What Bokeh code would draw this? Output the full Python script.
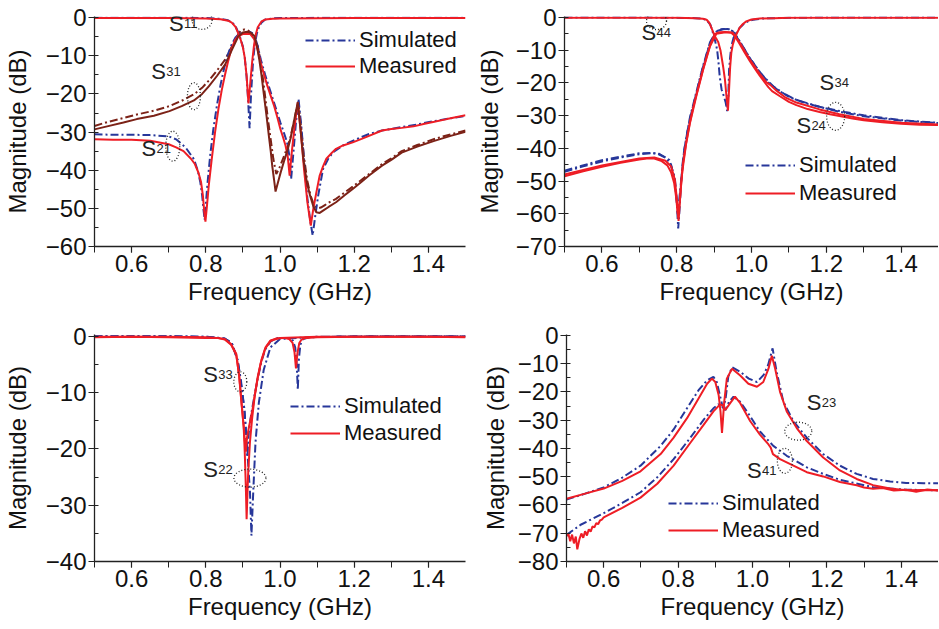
from bokeh.plotting import figure
from bokeh.layouts import column, row
from bokeh.models import Legend, LegendItem, SingleIntervalTicker, NumeralTickFormatter, Range1d
from bokeh.embed import file_html
from bokeh.resources import INLINE
from bokeh.core.properties import value

# ---------------- Panel (a): S11, S21, S31 ----------------
f11_m = [0.5, 0.7, 0.8, 0.84, 0.86, 0.87, 0.88, 0.887, 0.894, 0.9, 0.905, 0.91, 0.915, 0.92, 0.925, 0.93, 0.935, 0.94, 0.95, 0.96, 0.98, 1.0, 1.2, 1.5]
s11_m = [-0.1, -0.1, -0.2, -0.4, -0.8, -1.3, -2.4, -4.0, -5.8, -7.8, -10.5, -15.3, -22.5, -17.0, -11.5, -7.2, -4.3, -2.5, -1.0, -0.5, -0.3, -0.2, -0.1, -0.1]
f11_s = [0.5, 0.7, 0.8, 0.84, 0.86, 0.87, 0.88, 0.887, 0.894, 0.9, 0.905, 0.91, 0.914, 0.918, 0.922, 0.927, 0.932, 0.938, 0.944, 0.95, 0.96, 0.98, 1.0, 1.2, 1.5]
s11_s = [0.0, 0.0, -0.1, -0.3, -0.7, -1.2, -2.2, -3.8, -5.6, -7.6, -10.5, -15.5, -21.5, -29.0, -20.0, -12.0, -7.0, -4.0, -2.3, -1.3, -0.5, -0.2, -0.1, 0.0, 0.0]

f21_m = [0.5, 0.55, 0.6, 0.65, 0.7, 0.72, 0.74, 0.76, 0.77, 0.78, 0.787, 0.792, 0.796, 0.799, 0.803, 0.808, 0.816, 0.825, 0.834, 0.843, 0.851, 0.86, 0.869, 0.878, 0.887, 0.9, 0.91, 0.92, 0.931, 0.94, 0.948, 0.957, 0.966, 0.975, 0.984, 0.993, 1.001, 1.008, 1.015, 1.021, 1.026, 1.032, 1.04, 1.048, 1.056, 1.065, 1.074, 1.083, 1.09, 1.098, 1.107, 1.116, 1.125, 1.14, 1.151, 1.17, 1.196, 1.22, 1.24, 1.275, 1.3, 1.328, 1.36, 1.39, 1.416, 1.45, 1.5]
s21_m = [-31.9, -32.0, -32.0, -32.3, -33.2, -34.0, -35.0, -37.0, -38.3, -40.6, -43.0, -46.5, -51.0, -53.5, -49.5, -44.0, -37.1, -30.0, -24.0, -19.0, -15.3, -11.5, -8.3, -6.0, -4.8, -4.3, -4.2, -4.3, -5.7, -8.5, -11.8, -14.9, -17.9, -20.5, -23.1, -26.2, -29.2, -31.3, -33.6, -36.5, -41.4, -35.0, -28.0, -22.2, -30.0, -40.0, -48.5, -54.5, -50.0, -45.8, -41.4, -39.0, -37.0, -35.4, -34.4, -33.5, -32.7, -31.8, -31.0, -29.6, -29.2, -28.9, -28.5, -27.8, -27.3, -26.6, -25.6]
f21_s = [0.5, 0.55, 0.6, 0.65, 0.7, 0.72, 0.746, 0.768, 0.778, 0.785, 0.79, 0.794, 0.797, 0.8, 0.805, 0.812, 0.82, 0.83, 0.84, 0.85, 0.86, 0.87, 0.88, 0.89, 0.9, 0.91, 0.92, 0.93, 0.94, 0.948, 0.96, 0.975, 0.988, 1.001, 1.01, 1.019, 1.025, 1.03, 1.036, 1.043, 1.05, 1.058, 1.066, 1.074, 1.082, 1.088, 1.095, 1.103, 1.116, 1.13, 1.143, 1.17, 1.196, 1.22, 1.24, 1.275, 1.328, 1.37, 1.416, 1.46, 1.5]
s21_s = [-30.6, -30.7, -30.7, -30.8, -31.1, -31.9, -34.1, -37.1, -40.0, -43.0, -46.5, -50.5, -53.0, -49.0, -43.0, -36.0, -29.5, -23.0, -17.5, -13.0, -9.5, -7.0, -5.2, -4.3, -4.0, -3.8, -3.8, -4.3, -7.5, -10.9, -15.0, -19.6, -23.5, -27.5, -30.0, -32.7, -36.0, -42.3, -35.5, -27.5, -21.4, -29.0, -39.0, -47.5, -53.5, -57.1, -52.0, -46.6, -39.7, -37.0, -35.3, -33.5, -32.3, -31.3, -30.5, -29.6, -28.7, -28.0, -27.1, -26.4, -25.8]

f31_m = [0.5, 0.534, 0.578, 0.614, 0.66, 0.702, 0.735, 0.768, 0.79, 0.808, 0.83, 0.852, 0.87, 0.887, 0.9, 0.912, 0.922, 0.931, 0.938, 0.944, 0.95, 0.957, 0.964, 0.97, 0.975, 0.979, 0.984, 0.988, 0.995, 1.002, 1.01, 1.02, 1.028, 1.038, 1.048, 1.055, 1.063, 1.072, 1.081, 1.09, 1.098, 1.107, 1.116, 1.13, 1.151, 1.175, 1.196, 1.22, 1.24, 1.275, 1.3, 1.328, 1.37, 1.416, 1.46, 1.5]
s31_m = [-29.3, -28.5, -27.5, -26.6, -25.7, -24.5, -23.2, -21.7, -20.0, -18.0, -15.3, -12.3, -8.5, -5.0, -3.9, -3.7, -4.0, -4.8, -7.5, -10.9, -15.0, -20.5, -26.0, -31.0, -35.0, -38.8, -42.5, -45.6, -43.0, -40.5, -37.9, -34.8, -31.8, -27.0, -22.2, -29.0, -37.1, -43.0, -46.6, -49.5, -51.0, -51.2, -50.6, -49.7, -48.4, -46.5, -44.9, -43.0, -41.4, -38.8, -37.3, -35.4, -33.8, -32.3, -31.0, -29.9]
f31_s = [0.5, 0.534, 0.578, 0.614, 0.66, 0.702, 0.735, 0.768, 0.79, 0.808, 0.83, 0.852, 0.87, 0.887, 0.895, 0.905, 0.915, 0.925, 0.933, 0.94, 0.947, 0.954, 0.961, 0.968, 0.975, 0.982, 0.99, 0.998, 1.008, 1.018, 1.028, 1.038, 1.049, 1.056, 1.064, 1.073, 1.082, 1.091, 1.1, 1.11, 1.12, 1.135, 1.151, 1.175, 1.196, 1.22, 1.24, 1.275, 1.3, 1.328, 1.37, 1.416, 1.46, 1.5]
s31_s = [-28.4, -27.4, -26.3, -25.4, -24.4, -23.2, -21.8, -20.1, -18.4, -16.5, -13.9, -11.0, -7.6, -4.5, -3.3, -3.1, -3.4, -4.3, -6.0, -7.5, -11.0, -16.0, -21.5, -27.0, -32.0, -37.0, -41.0, -39.5, -37.0, -34.5, -31.5, -27.0, -22.0, -28.0, -36.0, -42.5, -46.5, -49.0, -50.0, -49.8, -49.2, -48.3, -47.5, -45.8, -44.3, -42.5, -41.0, -38.4, -36.9, -35.0, -33.4, -31.8, -30.6, -29.6]

# ---------------- Panel (b): S44, S24, S34 ----------------
f44_m = [0.5, 0.7, 0.8, 0.85, 0.87, 0.88, 0.887, 0.893, 0.898, 0.902, 0.907, 0.911, 0.917, 0.924, 0.929, 0.933, 0.937, 0.94, 0.943, 0.946, 0.95, 0.955, 0.961, 0.968, 0.977, 0.986, 1.0, 1.022, 1.06, 1.1, 1.2, 1.3, 1.5]
s44_m = [-0.1, -0.1, -0.1, -0.2, -0.4, -0.7, -1.6, -3.2, -4.6, -5.8, -6.7, -7.5, -10.0, -14.9, -19.0, -24.0, -28.5, -22.0, -15.0, -10.8, -8.3, -6.5, -4.8, -3.2, -2.0, -1.2, -0.6, -0.3, -0.2, -0.1, -0.1, -0.1, -0.1]
f44_s = [0.5, 0.7, 0.8, 0.85, 0.87, 0.88, 0.89, 0.897, 0.903, 0.908, 0.912, 0.915, 0.92, 0.926, 0.931, 0.935, 0.938, 0.94, 0.943, 0.946, 0.952, 0.96, 0.968, 0.977, 0.99, 1.004, 1.03, 1.1, 1.2, 1.5]
s44_s = [0.0, 0.0, -0.1, -0.2, -0.4, -0.8, -2.2, -4.7, -7.3, -9.8, -14.0, -18.0, -22.0, -24.0, -26.0, -28.6, -24.0, -16.0, -12.0, -8.8, -6.2, -4.7, -3.2, -2.2, -1.2, -0.7, -0.3, -0.1, 0.0, 0.0]

f24_m = [0.5, 0.55, 0.6, 0.65, 0.7, 0.72, 0.74, 0.76, 0.775, 0.785, 0.793, 0.798, 0.802, 0.805, 0.808, 0.812, 0.817, 0.825, 0.835, 0.844, 0.853, 0.862, 0.871, 0.88, 0.889, 0.898, 0.906, 0.915, 0.93, 0.945, 0.955, 0.968, 0.982, 0.995, 1.01, 1.022, 1.035, 1.045, 1.055, 1.075, 1.1, 1.12, 1.15, 1.182, 1.21, 1.235, 1.27, 1.3, 1.35, 1.4, 1.45, 1.5]
s24_m = [-48.5, -47.0, -45.6, -44.4, -43.4, -43.1, -43.1, -43.9, -45.2, -47.3, -50.5, -54.5, -59.0, -62.2, -57.0, -50.5, -44.5, -38.5, -32.2, -27.5, -23.5, -19.5, -15.6, -12.0, -8.6, -6.0, -4.8, -4.5, -4.4, -4.6, -5.6, -8.0, -10.8, -13.2, -15.8, -17.8, -19.8, -21.3, -22.5, -24.0, -25.8, -26.8, -28.0, -28.9, -29.6, -30.1, -30.9, -31.4, -32.0, -32.5, -32.8, -32.9]
f34_m = [0.5, 0.6, 0.7, 0.74, 0.77, 0.785, 0.795, 0.8, 0.804, 0.809, 0.815, 0.825, 0.835, 0.853, 0.871, 0.889, 0.906, 0.93, 0.95, 0.968, 0.995, 1.022, 1.04, 1.05, 1.065, 1.09, 1.12, 1.182, 1.235, 1.3, 1.4, 1.5]
s34_m = [-48.0, -45.2, -43.1, -42.8, -43.8, -45.5, -49.5, -55.0, -61.0, -55.0, -47.0, -38.8, -32.5, -23.8, -15.8, -8.8, -5.0, -4.5, -4.7, -7.6, -12.8, -17.2, -19.8, -20.6, -22.2, -24.4, -26.0, -28.1, -29.6, -31.0, -32.2, -32.7]
f24_s = [0.5, 0.55, 0.6, 0.65, 0.7, 0.73, 0.75, 0.77, 0.785, 0.795, 0.8, 0.804, 0.808, 0.812, 0.817, 0.825, 0.835, 0.853, 0.871, 0.889, 0.906, 0.92, 0.937, 0.95, 0.968, 0.995, 1.022, 1.048, 1.075, 1.12, 1.182, 1.235, 1.3, 1.4, 1.5]
s24_s = [-47.2, -45.5, -44.0, -42.8, -41.8, -41.4, -41.7, -42.8, -45.0, -50.0, -56.0, -64.5, -58.0, -50.0, -43.3, -37.0, -31.1, -23.0, -14.9, -7.8, -4.3, -3.6, -3.5, -4.2, -7.3, -12.3, -16.7, -20.2, -22.6, -25.2, -27.3, -28.8, -30.2, -31.5, -32.3]
f34_s = [0.5, 0.6, 0.7, 0.75, 0.78, 0.795, 0.803, 0.81, 0.82, 0.835, 0.853, 0.871, 0.889, 0.906, 0.925, 0.94, 0.955, 0.975, 1.0, 1.03, 1.06, 1.1, 1.15, 1.2, 1.25, 1.3, 1.4, 1.5]
s34_s = [-46.8, -43.6, -41.5, -41.5, -43.5, -49.0, -60.0, -52.0, -40.5, -30.8, -22.6, -14.6, -7.6, -4.2, -3.5, -3.6, -4.8, -8.5, -13.2, -17.8, -21.2, -24.3, -26.4, -27.8, -28.9, -29.9, -31.4, -32.2]

# ---------------- Panel (c): S33, S22 ----------------
f33_m = [0.5, 0.6, 0.7, 0.8, 0.83, 0.851, 0.868, 0.882, 0.89, 0.896, 0.902, 0.905, 0.908, 0.911, 0.917, 0.926, 0.93, 0.939, 0.948, 0.961, 0.974, 0.99, 1.01, 1.025, 1.034, 1.039, 1.043, 1.047, 1.052, 1.058, 1.07, 1.1, 1.2, 1.3, 1.4, 1.5]
s33_m = [-0.2, -0.1, -0.2, -0.3, -0.3, -0.5, -1.4, -3.1, -7.2, -11.8, -15.9, -18.5, -20.5, -18.0, -15.9, -13.0, -11.3, -7.8, -4.8, -2.0, -0.8, -0.4, -0.3, -0.5, -1.2, -2.8, -5.7, -3.0, -1.2, -0.6, -0.3, -0.2, -0.1, -0.1, -0.1, -0.2]
f22_m = [0.5, 0.6, 0.7, 0.8, 0.83, 0.851, 0.868, 0.882, 0.89, 0.896, 0.902, 0.905, 0.908, 0.91, 0.914, 0.919, 0.925, 0.932, 0.94, 0.95, 0.96, 0.975, 1.0, 1.1, 1.3, 1.5]
s22_m = [-0.1, -0.1, -0.1, -0.2, -0.3, -0.6, -1.5, -3.3, -7.0, -11.5, -16.0, -20.6, -27.0, -32.5, -24.6, -18.8, -14.5, -10.5, -7.2, -4.2, -2.2, -0.8, -0.3, -0.1, -0.1, -0.1]
f33_s = [0.5, 0.7, 0.8, 0.85, 0.87, 0.886, 0.895, 0.904, 0.909, 0.912, 0.916, 0.922, 0.93, 0.94, 0.95, 0.96, 0.975, 0.995, 1.02, 1.035, 1.041, 1.045, 1.048, 1.051, 1.055, 1.062, 1.08, 1.2, 1.5]
s33_s = [0.0, 0.0, -0.1, -0.4, -1.2, -4.3, -8.5, -13.0, -17.5, -21.4, -17.0, -14.0, -11.0, -7.5, -4.5, -2.4, -0.9, -0.3, -0.3, -0.8, -2.0, -5.0, -9.5, -4.0, -1.5, -0.5, -0.2, 0.0, 0.0]
f22_s = [0.5, 0.7, 0.8, 0.85, 0.87, 0.886, 0.895, 0.904, 0.912, 0.919, 0.923, 0.928, 0.934, 0.943, 0.956, 0.974, 1.0, 1.1, 1.3, 1.5]
s22_s = [0.0, 0.0, -0.1, -0.4, -1.2, -4.3, -8.0, -13.0, -20.6, -27.5, -35.4, -27.5, -18.8, -11.8, -6.0, -2.0, -0.5, -0.1, 0.0, 0.0]

# ---------------- Panel (d): S23, S41 ----------------
f23_m = [0.5, 0.55, 0.6, 0.65, 0.699, 0.753, 0.788, 0.824, 0.855, 0.878, 0.891, 0.9, 0.909, 0.914, 0.918, 0.921, 0.924, 0.931, 0.945, 0.967, 0.989, 1.012, 1.029, 1.043, 1.052, 1.061, 1.074, 1.092, 1.119, 1.146, 1.19, 1.235, 1.28, 1.324, 1.37, 1.413, 1.46, 1.5]
s23_m = [-57.8, -56.0, -54.2, -51.5, -48.1, -42.0, -36.2, -29.3, -22.3, -17.1, -15.3, -16.5, -21.1, -27.0, -34.5, -29.0, -23.5, -15.3, -11.8, -14.2, -17.1, -18.2, -16.5, -11.8, -7.2, -11.8, -20.0, -26.9, -32.8, -37.4, -43.2, -47.8, -50.8, -53.0, -54.2, -54.8, -54.7, -54.8]
f23_s = [0.5, 0.55, 0.6, 0.65, 0.699, 0.753, 0.788, 0.824, 0.855, 0.878, 0.895, 0.904, 0.912, 0.92, 0.927, 0.935, 0.945, 0.967, 0.99, 1.012, 1.03, 1.042, 1.054, 1.065, 1.083, 1.11, 1.146, 1.19, 1.235, 1.28, 1.324, 1.37, 1.413, 1.46, 1.5]
s23_s = [-58.1, -56.0, -53.8, -50.3, -46.1, -39.1, -33.3, -25.8, -19.4, -15.9, -14.7, -16.5, -21.0, -25.5, -23.0, -14.5, -11.3, -12.9, -15.3, -16.5, -14.0, -10.5, -4.6, -13.0, -23.5, -30.4, -36.2, -42.0, -46.1, -49.0, -50.8, -51.7, -52.2, -52.3, -52.3]
f41_m = [0.5, 0.505, 0.51, 0.515, 0.52, 0.525, 0.529, 0.535, 0.54, 0.545, 0.55, 0.555, 0.56, 0.565, 0.57, 0.575, 0.58, 0.585, 0.59, 0.595, 0.6,
         0.65, 0.699, 0.744, 0.788, 0.833, 0.869, 0.895, 0.913, 0.92, 0.927, 0.94, 0.953, 0.967, 0.994, 1.02, 1.043, 1.049, 1.055, 1.074, 1.11, 1.146, 1.19, 1.235, 1.28, 1.3, 1.324, 1.35, 1.38, 1.413, 1.44, 1.47, 1.5]
s41_m = [-71.0, -70.2, -72.8, -70.5, -73.6, -71.2, -75.7, -72.0, -70.1, -71.6, -69.3, -70.8, -68.6, -69.4, -67.6, -67.9, -66.4, -66.8, -65.5, -65.2, -64.4,
         -61.0, -57.4, -52.5, -46.1, -38.0, -31.6, -26.9, -24.4, -24.8, -26.4, -24.0, -21.7, -24.0, -30.4, -35.1, -38.6, -39.7, -42.0, -43.8, -46.1, -48.4, -49.9, -51.9, -53.0, -53.8, -54.3, -54.0, -54.9, -54.6, -55.3, -54.5, -54.9]
f41_s = [0.5, 0.538, 0.6, 0.65, 0.699, 0.744, 0.788, 0.833, 0.869, 0.895, 0.908, 0.918, 0.927, 0.937, 0.949, 0.967, 0.994, 1.02, 1.056, 1.092, 1.146, 1.19, 1.235, 1.324, 1.413, 1.5]
s41_s = [-70.6, -67.0, -62.9, -59.3, -55.5, -50.2, -43.8, -36.2, -29.8, -25.8, -24.4, -25.2, -26.4, -23.5, -21.7, -23.5, -28.7, -34.0, -39.1, -42.6, -46.7, -49.0, -51.1, -53.7, -54.6, -54.8]

# labels (subscript, x, y) and dotted rings (x, y, w_px, h_px)
lab_a = [("11", 0.701, -1.5), ("31", 0.653, -14.1), ("21", 0.627, -34.2)]
ring_a = [(0.790, -0.6, 20, 19), (0.768, -20.6, 13, 27), (0.711, -33.7, 14, 30)]
lab_b = [("44", 0.706, -4.5), ("34", 1.182, -19.9), ("24", 1.120, -32.9)]
ring_b = [(0.746, -1.1, 20, 17), (1.225, -30.2, 18, 28)]
lab_c = [("33", 0.793, -6.8), ("22", 0.793, -23.6)]
ring_c = [(0.893, -8.1, 13, 20), (0.919, -25.2, 32, 18)]
lab_d = [("23", 1.146, -23.6), ("41", 0.985, -47.7)]
ring_d = [(1.123, -33.9, 27, 18), (1.087, -44.4, 15, 25)]

FONT = "Liberation Sans"
BLUE = "#27379a"
RED = "#ee1d25"
BROWN = "#7c2217"
DASH = "8 3 2 3"


def make(width, height, bl, br, bt, bb, ymin, ystand):
    p = figure(width=width, height=height, x_range=Range1d(0.5, 1.5), y_range=Range1d(ymin, 0.3),
               output_backend="svg", toolbar_location=None,
               min_border_left=bl, min_border_right=br, min_border_top=bt, min_border_bottom=bb)
    p.outline_line_color = None
    p.xgrid.visible = False
    p.ygrid.visible = False
    p.xaxis.ticker = SingleIntervalTicker(interval=0.2, num_minor_ticks=2)
    p.yaxis.ticker = SingleIntervalTicker(interval=10, num_minor_ticks=2)
    p.xaxis.formatter = NumeralTickFormatter(format="0.0")
    p.xaxis.axis_label = "Frequency (GHz)"
    p.yaxis.axis_label = "Magnitude (dB)"
    for ax in (p.xaxis[0], p.yaxis[0]):
        ax.axis_line_color = "#222222"
        ax.axis_line_width = 1.3
        ax.major_tick_line_color = "#222222"
        ax.minor_tick_line_color = "#222222"
        ax.major_tick_line_width = 1.2
        ax.minor_tick_line_width = 1.0
        ax.major_tick_out = 6
        ax.major_tick_in = 0
        ax.major_label_text_font = FONT
        ax.major_label_text_font_size = "24px"
        ax.major_label_text_color = "#111111"
        ax.major_label_standoff = 2
        ax.axis_label_text_font = FONT
        ax.axis_label_text_font_size = "24px"
        ax.axis_label_text_font_style = "normal"
        ax.axis_label_text_color = "#111111"
    p.xaxis.minor_tick_out = 6
    p.xaxis.minor_tick_in = 0
    p.yaxis.minor_tick_out = 0
    p.yaxis.minor_tick_in = 4
    p.xaxis.axis_label_standoff = 3
    p.yaxis.axis_label_standoff = ystand
    return p


def sim(p, x, y, color=BLUE):
    return p.line(x, y, line_color=color, line_width=2, line_dash=DASH)


def meas(p, x, y, color=RED):
    return p.line(x, y, line_color=color, line_width=2)


def annotate(p, labs, rings):
    for sub, x, y in labs:
        p.text(x=[x], y=[y], text=["S"], text_font=value(FONT), text_font_size="22px",
               text_baseline="alphabetic", text_align="left", text_color="#222222")
        p.text(x=[x], y=[y], text=[sub], x_offset=15, text_font=value(FONT), text_font_size="13px",
               text_baseline="alphabetic", text_align="left", text_color="#222222")
    for x, y, w, h in rings:
        p.ellipse(x=[x], y=[y], width=w, height=h, width_units="screen", height_units="screen",
                  fill_color=None, line_color="#222222", line_dash="1 2", line_width=1.3)


def legend(p, rs, rm, loc, spacing):
    lg = Legend(items=[LegendItem(label="Simulated", renderers=[rs]),
                       LegendItem(label="Measured", renderers=[rm])],
                location=loc, label_text_font=FONT, label_text_font_size="22px",
                label_text_color="#111111",
                glyph_width=50, glyph_height=22, label_height=22, label_standoff=4,
                spacing=spacing, padding=0, margin=0, border_line_color=None,
                background_fill_alpha=0)
    p.add_layout(lg)


# Panel a
pa = make(470, 310, 87, 5, 16, 64, -60, 12)
sim(pa, f31_s, s31_s, BROWN)
rs = sim(pa, f21_s, s21_s)
sim(pa, f11_s, s11_s)
rm = meas(pa, f21_m, s21_m)
meas(pa, f11_m, s11_m)
meas(pa, f31_m, s31_m, BROWN)
annotate(pa, lab_a, ring_a)
legend(pa, rs, rm, (211, 167), 0)

# Panel b
pb = make(468, 310, 94, 0, 16, 64, -70, 10)
rs = sim(pb, f24_s, s24_s)
sim(pb, f34_s, s34_s)
sim(pb, f44_s, s44_s)
rm = meas(pb, f24_m, s24_m)
meas(pb, f34_m, s34_m)
meas(pb, f44_m, s44_m)
annotate(pb, lab_b, ring_b)
legend(pb, rs, rm, (181, 40), 2)

# Panel c
pc = make(470, 318, 87, 5, 24, 65, -40, 12)
rs = sim(pc, f22_s, s22_s)
sim(pc, f33_s, s33_s)
rm = meas(pc, f22_m, s22_m)
meas(pc, f33_m, s33_m)
annotate(pc, lab_c, ring_c)
legend(pc, rs, rm, (196, 115), 1)

# Panel d
pd = make(468, 318, 96, 0, 21, 67, -80, 6)
rs = sim(pd, f23_s, s23_s)
sim(pd, f41_s, s41_s)
rm = meas(pd, f23_m, s23_m)
meas(pd, f41_m, s41_m)
annotate(pd, lab_d, ring_d)
legend(pd, rs, rm, (102, 18), 1)

layout = column(row(pa, pb), row(pc, pd))
open("out.html", "w").write(file_html(layout, INLINE))
